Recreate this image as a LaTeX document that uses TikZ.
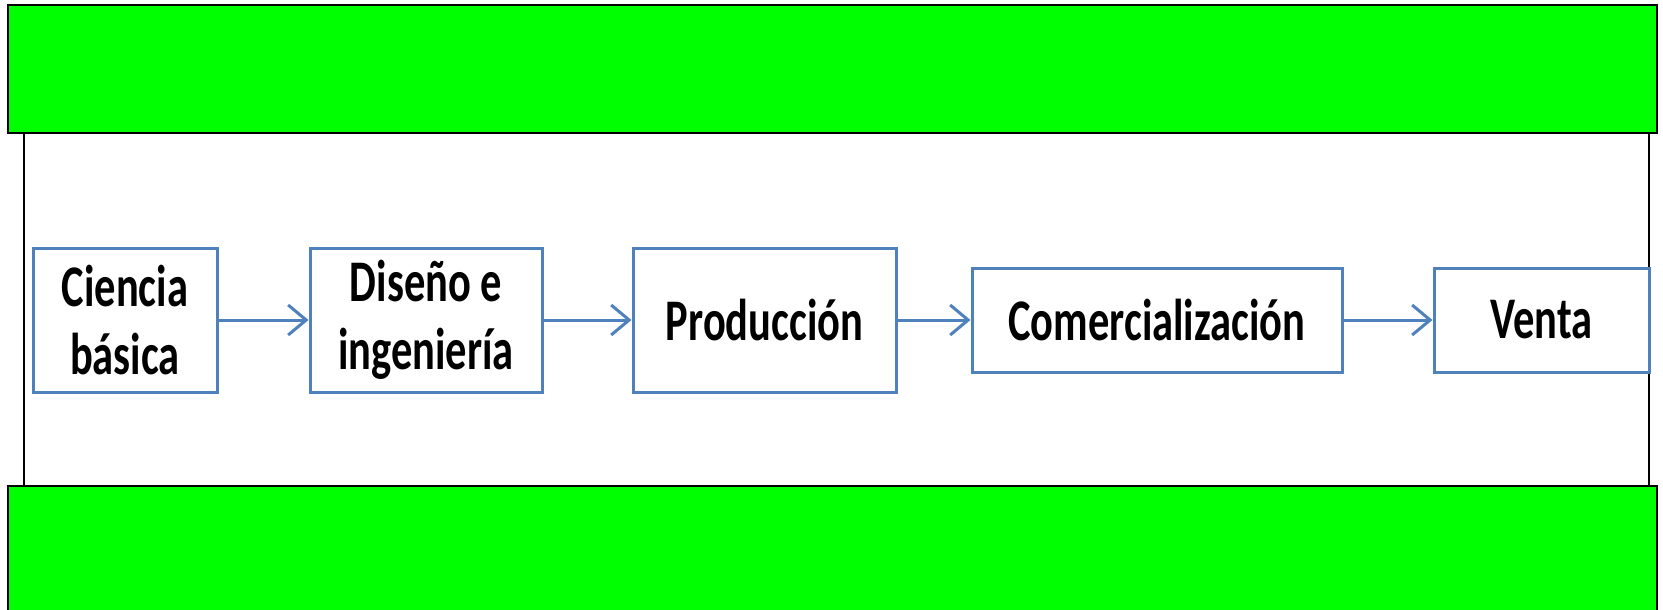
\documentclass[tikz,border=0pt]{standalone}
\usepackage{fontspec}
\usepackage{xcolor}
\usepackage{tikz}
\usetikzlibrary{arrows.meta}
\newfontfamily\boxfont{Carlito}[FakeStretch=0.72]
\definecolor{boxblue}{HTML}{4F81BD}
\definecolor{bandgreen}{HTML}{00FF00}

\begin{document}
\begin{tikzpicture}[x=1pt,y=-1pt,
		band/.style={fill=bandgreen, draw=black, line width=2pt},
		stage/.style={draw=boxblue, line width=3pt, align=center, inner sep=0pt,
			font=\boxfont\bfseries\fontsize{59}{68}\selectfont},
		flow/.style={draw=boxblue, line width=3pt, -{Straight Barb[length=18pt,width=30pt]}}]
		\clip (0,0) rectangle (1663,610);
		
		\draw[band] (8,5) rectangle (1657,133);
		\draw[band] (8,486) rectangle (1657,625);
		\draw[line width=2pt] (24,133) -- (24,486);
		\draw[line width=2pt] (1649,133) -- (1649,486);
		
		\node[stage, minimum width=184pt, minimum height=144pt] (ciencia) at (125,320) {Ciencia\\básica};
		\node[stage, minimum width=232pt, minimum height=144pt] (diseno) at (426,320) {Diseño e\\ingeniería};
		\node[stage, minimum width=263pt, minimum height=144pt] (produccion) at (764.5,320) {Producción};
		\node[stage, minimum width=370pt, minimum height=104pt] (comercial) at (1157,320) {Comercialización};
		\node[stage, minimum width=215pt, minimum height=104pt] (venta) at (1541.5,320) {Venta};
		
		\draw[flow] (ciencia) -- (diseno);
		\draw[flow] (diseno) -- (produccion);
		\draw[flow] (produccion) -- (comercial);
		\draw[flow] (comercial) -- (venta);
	\end{tikzpicture}
\end{document}
